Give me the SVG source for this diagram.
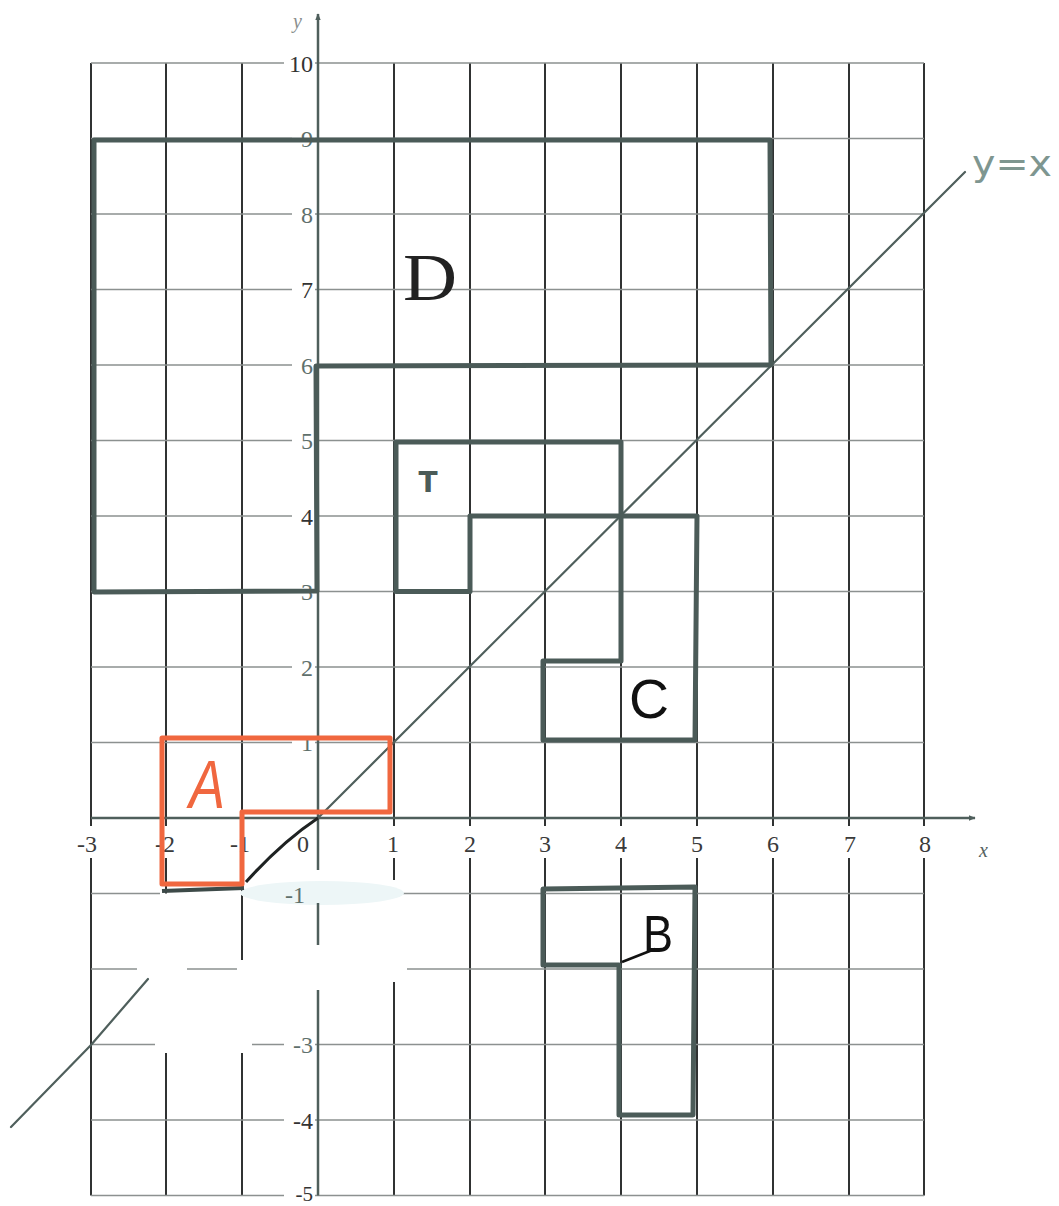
<svg xmlns="http://www.w3.org/2000/svg" width="1059" height="1206" viewBox="0 0 1059 1206">
<style>
.v{stroke:#303232;stroke-width:2;fill:none}
.h{stroke:#8c9190;stroke-width:1.6;fill:none}
.ax{stroke:#4f5f5c;stroke-width:2.5;fill:none}
.yl{font-family:"Liberation Serif",serif;font-size:24px;fill:#5f706c;text-anchor:end}
.xl{font-family:"Liberation Serif",serif;font-size:24px;fill:#3a3a3a;text-anchor:middle}
.bg{fill:#fff}
.shape{fill:none;stroke:#4b5b58;stroke-width:5;stroke-linejoin:round;stroke-linecap:round}
.shapeA{fill:none;stroke:#f0673f;stroke-width:5;stroke-linejoin:round;stroke-linecap:round}
</style>
<defs>
<marker id="arr" viewBox="0 0 10 10" refX="9" refY="5" markerWidth="7" markerHeight="7" orient="auto" markerUnits="userSpaceOnUse">
<path d="M0,1 L10,5 L0,9 Z" fill="#4f5f5c"/>
</marker>
</defs>
<rect width="1059" height="1206" fill="#fff"/>
<g id="grid">
<path class="v" d="M91,63V1195.5 M166,63V893.5 M166,1053V1195.5 M242,63V960 M242,1053V1195.5 M394,63V880 M394,982V1195.5 M470,63V1195.5 M545,63V1195.5 M621,63V1195.5 M697,63V1195.5 M773,63V1195.5 M849,63V1195.5 M924,63V1195.5"/>
<path class="h" d="M91,63H924 M91,138.5H924 M91,214H924 M91,289.5H924 M91,365H924 M91,440.5H924 M91,516H924 M91,591.5H924 M91,667H924 M91,742.5H924 M91,893.5H160 M403,893.5H924 M91,969H137 M187,969H237 M407,969H924 M91,1044.5H155 M252,1044.5H924 M91,1120H924 M91,1195.5H924"/>
<ellipse cx="322" cy="893" rx="82" ry="12" fill="#edf6f7"/>
</g>
<g id="label-backgrounds">
<rect class="bg" x="284" y="50" width="31" height="26"/>
<rect class="bg" x="292" y="126" width="23" height="26"/>
<rect class="bg" x="292" y="201" width="23" height="26"/>
<rect class="bg" x="292" y="277" width="23" height="26"/>
<rect class="bg" x="292" y="352" width="23" height="26"/>
<rect class="bg" x="292" y="428" width="23" height="26"/>
<rect class="bg" x="292" y="503" width="23" height="26"/>
<rect class="bg" x="292" y="579" width="23" height="26"/>
<rect class="bg" x="292" y="654" width="23" height="26"/>
<rect class="bg" x="292" y="730" width="23" height="26"/>
<rect class="bg" x="284" y="1032" width="31" height="26"/>
<rect class="bg" x="284" y="1107" width="31" height="26"/>
<rect class="bg" x="284" y="1183" width="31" height="23"/>
<rect class="bg" x="76" y="826" width="30" height="32"/>
<rect class="bg" x="152" y="826" width="30" height="32"/>
<rect class="bg" x="228" y="826" width="28" height="32"/>
<rect class="bg" x="382" y="826" width="24" height="32"/>
<rect class="bg" x="458" y="826" width="24" height="32"/>
<rect class="bg" x="533" y="826" width="24" height="32"/>
<rect class="bg" x="609" y="826" width="24" height="32"/>
<rect class="bg" x="685" y="826" width="24" height="32"/>
<rect class="bg" x="761" y="826" width="24" height="32"/>
<rect class="bg" x="837" y="826" width="24" height="32"/>
<rect class="bg" x="912" y="826" width="24" height="32"/>
</g>
<g id="axes">
<path class="ax" d="M318,1195.5V990 M318,945V903 M318,870V14" marker-end="url(#arr)"/>
<path class="ax" d="M91,818H975" marker-end="url(#arr)"/>
<text x="293" y="28" style="font-family:'Liberation Serif',serif;font-size:20px;font-style:italic;fill:#8a8f8e">y</text>
<text x="979" y="857" style="font-family:'Liberation Serif',serif;font-size:20px;font-style:italic;fill:#55625f">x</text>
</g>
<g id="axis-labels">
<text class="yl" x="313" y="72" style="fill:#333">10</text>
<text class="yl" x="313" y="147">9</text>
<text class="yl" x="313" y="223">8</text>
<text class="yl" x="313" y="298" style="fill:#333">7</text>
<text class="yl" x="313" y="374">6</text>
<text class="yl" x="313" y="449">5</text>
<text class="yl" x="313" y="525" style="fill:#333">4</text>
<text class="yl" x="313" y="600">3</text>
<text class="yl" x="313" y="676">2</text>
<text class="yl" x="313" y="751">1</text>
<text class="yl" x="305" y="903">-1</text>
<text class="yl" x="313" y="1053">-3</text>
<text class="yl" x="313" y="1129" style="fill:#333">-4</text>
<text class="yl" x="313" y="1201" style="fill:#333;font-size:21px">-5</text>
<text class="xl" x="87" y="852">-3</text>
<text class="xl" x="165" y="852">-2</text>
<text class="xl" x="240" y="852">-1</text>
<text class="xl" x="303" y="852">0</text>
<text class="xl" x="393" y="852">1</text>
<text class="xl" x="470" y="852">2</text>
<text class="xl" x="545" y="852">3</text>
<text class="xl" x="621" y="852">4</text>
<text class="xl" x="697" y="852">5</text>
<text class="xl" x="773" y="852">6</text>
<text class="xl" x="850" y="852">7</text>
<text class="xl" x="925" y="852">8</text>
</g>
<g id="line-y-eq-x">
<path d="M11,1127 L91,1045 L148,979" fill="none" stroke="#4f5f5c" stroke-width="2.2" stroke-linecap="round"/>
<path d="M318,818 L965,172" fill="none" stroke="#4f5f5c" stroke-width="2.2" stroke-linecap="round"/>
<path d="M246,882 Q282,842 318,818" fill="none" stroke="#1e2222" stroke-width="3"/>
<text x="972" y="176" textLength="80" lengthAdjust="spacingAndGlyphs" style="font-family:'DejaVu Sans',sans-serif;font-size:36px;fill:#7e9690">y=x</text>
</g>
<g id="shape-D">
<path class="shape" d="M94,140 L770,140 L771,365 L316,366 L317,591 L94,592 Z"/>
<text x="403" y="300" textLength="54" lengthAdjust="spacingAndGlyphs" style="font-family:'Liberation Serif',serif;font-size:68px;fill:#222">D</text>
</g>
<g id="shape-T">
<path class="shape" d="M396,442 L621,442 L621,516 L470,516 L470,591.5 L396,591.5 Z"/>
<text x="428" y="492" text-anchor="middle" style="font-family:'DejaVu Sans',sans-serif;font-size:28px;font-weight:bold;fill:#4b5b58">T</text>
</g>
<g id="shape-C">
<path class="shape" d="M621,516 L697,516 L695,740 L543,740 L543,661 L621,661 Z"/>
<text x="629" y="718" textLength="40" lengthAdjust="spacingAndGlyphs" style="font-family:'Liberation Sans',sans-serif;font-size:56px;fill:#111">C</text>
</g>
<g id="shape-B">
<path class="shape" d="M543,889 L695,887 L693,1115 L619,1115 L619,965 L543,965 Z"/>
<path d="M622,962 L655,949" stroke="#111" stroke-width="2.5" fill="none"/>
<text x="643" y="952" textLength="30" lengthAdjust="spacingAndGlyphs" style="font-family:'Liberation Sans',sans-serif;font-size:52px;fill:#111">B</text>
</g>
<g id="shape-A">
<path d="M162,891 L244,888" stroke="#3d4a48" stroke-width="4" fill="none"/>
<path class="shapeA" d="M162,738 L390,738 L390,812 L242,812 L242,884 L162,884 Z"/>
<text x="189" y="808" textLength="36" lengthAdjust="spacingAndGlyphs" style="font-family:'Liberation Sans',sans-serif;font-size:68px;font-style:italic;fill:#f0673f">A</text>
</g>
</svg>
